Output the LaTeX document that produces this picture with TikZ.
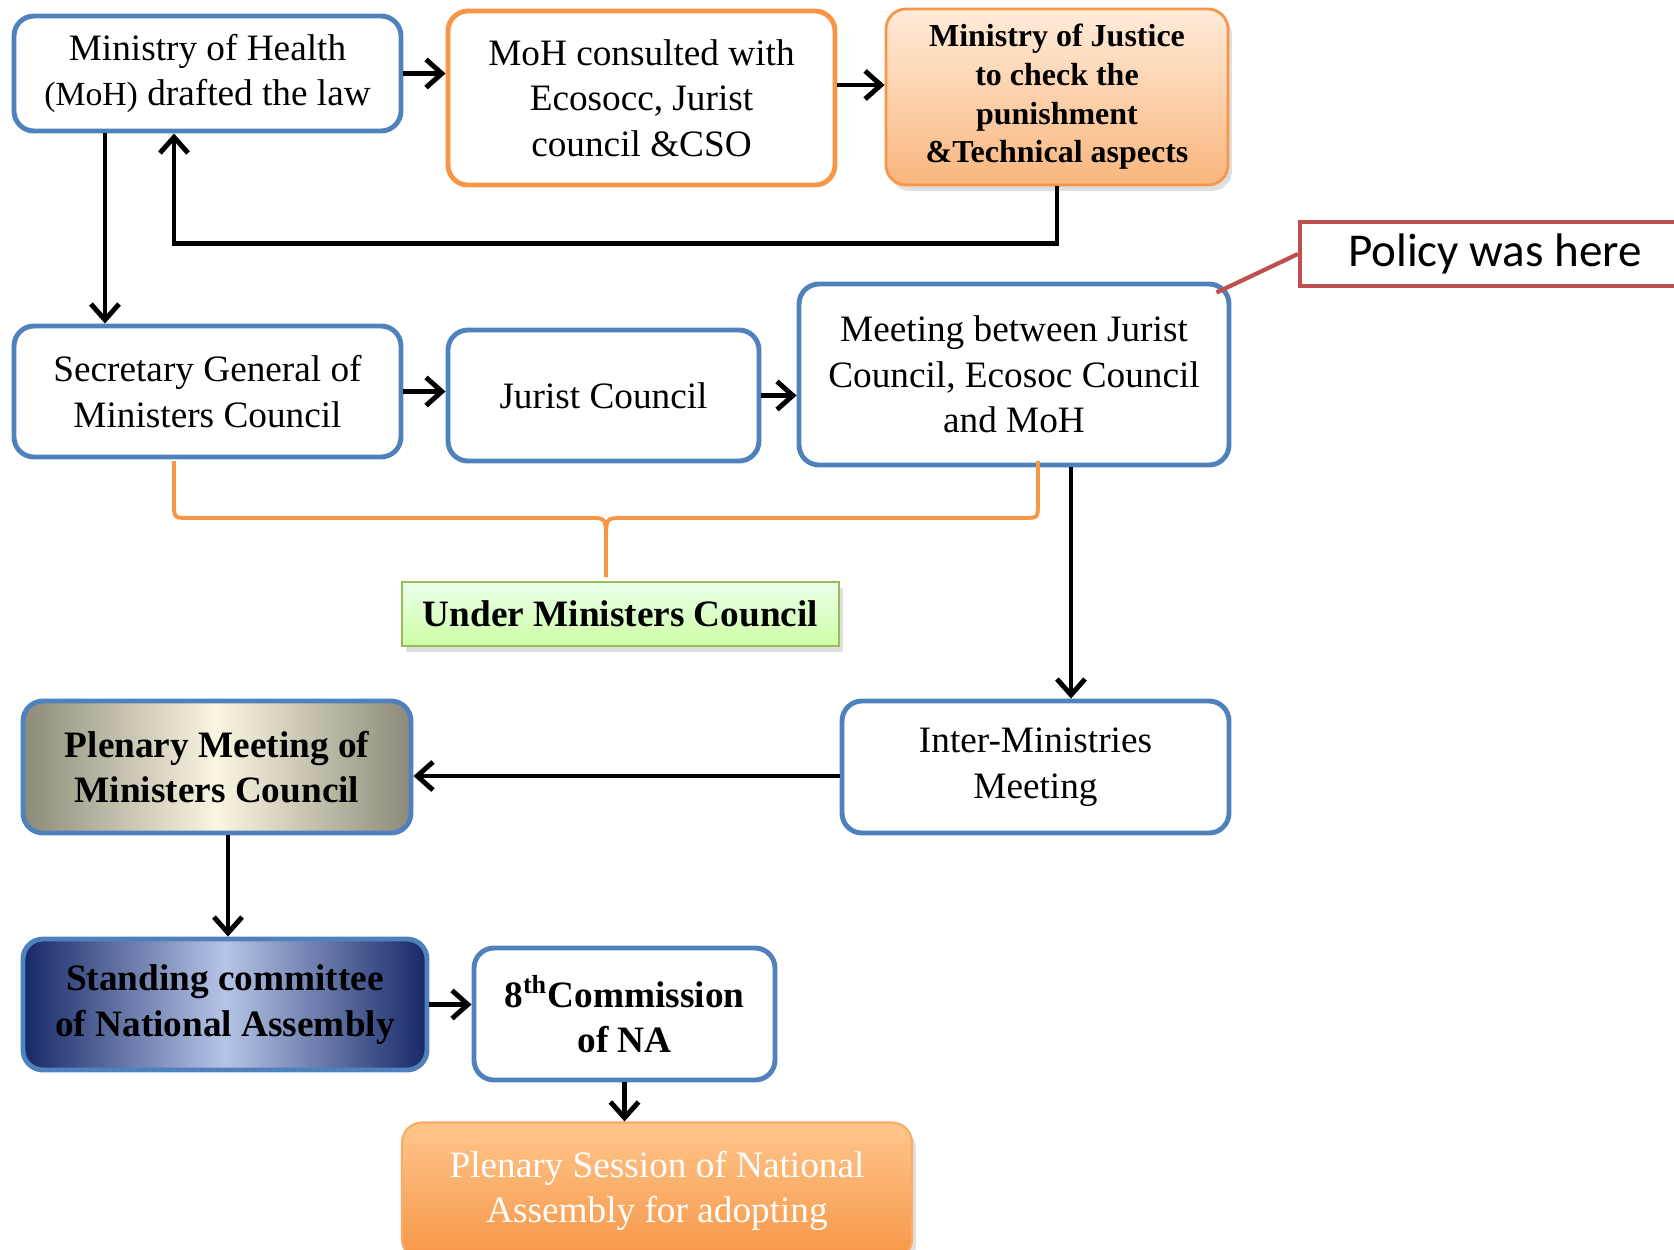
\documentclass[tikz,border=0pt]{standalone}
\usepackage{fontspec}
\setmainfont{Liberation Serif}
\newfontfamily\calibfont{Carlito}
\usetikzlibrary{arrows.meta,shadows}
\definecolor{boxblue}{HTML}{4F81BD}
\definecolor{boxorange}{HTML}{F79646}
\definecolor{boxred}{HTML}{C0504D}
\definecolor{boxgreen}{HTML}{9BBB59}
\definecolor{plenedge}{RGB}{140,138,120}
\definecolor{plenmid}{RGB}{251,246,226}
\definecolor{standedge}{RGB}{22,40,104}
\definecolor{standmid}{RGB}{182,197,230}
\tikzset{%
  block/.style    = {draw=boxblue, line width=1.4pt, rectangle, rounded corners=2mm,
    align=center, fill=white, font=\fontsize{10.6}{13}\selectfont},
  oblock/.style   = {block, draw=boxorange}, % Orange frame
  justice/.style  = {block, draw=boxorange, line width=0.8pt, top color=orange!15,
    bottom color=boxorange!70, font=\fontsize{9.1}{11}\selectfont\bfseries,
    drop shadow={opacity=0.25, shadow xshift=0.4mm, shadow yshift=-0.6mm}},
  plenary/.style  = {block, left color=plenedge, right color=plenedge,
    middle color=plenmid, font=\fontsize{10.6}{13}\selectfont\bfseries},
  standing/.style = {block, left color=standedge, right color=standedge,
    middle color=standmid, font=\fontsize{10.6}{13}\selectfont\bfseries},
  session/.style  = {block, draw=boxorange!80, line width=0.6pt, top color=orange!45,
    bottom color=boxorange, text=white,
    drop shadow={opacity=0.25, shadow xshift=0.4mm, shadow yshift=-0.6mm}},
  label/.style    = {draw=boxgreen, line width=0.8pt, rectangle, top color=green!8!white,
    bottom color=green!55!yellow!35!white, font=\fontsize{10.6}{13}\selectfont\bfseries,
    drop shadow={opacity=0.25, shadow xshift=0.4mm, shadow yshift=-0.6mm}},
  note/.style     = {draw=boxred, line width=1.2pt, rectangle, fill=white,
    font=\fontsize{13.4}{16}\selectfont\calibfont},
  brace/.style    = {draw=boxorange, line width=1.1pt},
  link/.style     = {draw=boxred, line width=1.2pt}
}

\begin{document}
\begin{tikzpicture}[line width=1.4pt, >={Straight Barb[length=4.5pt,width=8pt]}]
\useasboundingbox (0,0) rectangle (16.74,-12.49);
\draw
	% Drafting and consultation :
	node at (2.075,-0.735) [block, minimum width=3.87cm, minimum height=1.15cm] (moh)
		{Ministry of Health\\{\fontsize{9.6}{13}\selectfont(MoH)} drafted the law}
	node at (6.415,-0.98) [oblock, minimum width=3.87cm, minimum height=1.74cm] (cons)
		{MoH consulted with\\Ecosocc, Jurist\\council \&CSO}
	node at (10.57,-0.97) [justice, minimum width=3.42cm, minimum height=1.76cm] (moj)
		{Ministry of Justice\\to check the\\punishment\\\&Technical aspects}
	% Ministers Council stage
	node at (2.075,-3.915) [block, minimum width=3.87cm, minimum height=1.31cm] (secgen)
		{Secretary General of\\Ministers Council}
	node at (6.035,-3.955) [block, minimum width=3.11cm, minimum height=1.31cm] (jurist)
		{Jurist Council}
	node at (10.14,-3.745) [block, minimum width=4.30cm, minimum height=1.81cm] (meet)
		{Meeting between Jurist\\Council, Ecosoc Council\\and MoH}
	node at (6.205,-6.14) [label, minimum width=4.37cm, minimum height=0.64cm] (under)
		{Under Ministers Council}
	node at (10.355,-7.67) [block, minimum width=3.87cm, minimum height=1.32cm] (inter)
		{Inter-Ministries\\Meeting}
	node at (2.17,-7.67) [plenary, minimum width=3.88cm, minimum height=1.32cm] (plenmeet)
		{Plenary Meeting of\\Ministers Council}
;
\draw
	% National Assembly stage
	node at (2.25,-10.045) [standing, minimum width=4.04cm, minimum height=1.31cm] (standing)
		{Standing committee\\of National Assembly}
	node at (6.245,-10.14) [block, minimum width=3.01cm, minimum height=1.32cm,
		font=\fontsize{10.6}{13}\selectfont\bfseries] (comm)
		{8\textsuperscript{th}Commission\\of NA}
	node at (6.57,-11.91) [session, minimum width=5.10cm, minimum height=1.37cm] (session)
		{Plenary Session of National\\Assembly for adopting}
	node at (14.95,-2.54) [note, minimum width=3.9cm, minimum height=0.64cm] (policy)
		{Policy was here}
;
	% Joining blocks.
	\draw[->] (moh.east) -- (moh.east -| cons.west);
	\draw[->] ([yshift=1.3mm]cons.east) -- ([yshift=1.3mm]cons.east -| moj.west);
	\draw[->] (moj.south) -- ++(0,-0.57) -| ([xshift=-3.35mm]moh.south);
	\draw[->] ([xshift=-10.25mm]moh.south) -- ([xshift=-10.25mm]secgen.north);
	\draw[->] (secgen.east) -- (secgen.east -| jurist.west);
	\draw[->] (jurist.east) -- (jurist.east -| meet.west);
	\draw[->] ([xshift=5.7mm]meet.south) -- ([xshift=5.7mm]meet.south |- inter.north);
	\draw[->] ([yshift=-0.9mm]inter.west) -- ([yshift=-0.9mm]inter.west -| plenmeet.east);
	\draw[->] ([xshift=1.1mm]plenmeet.south) -- ([xshift=1.1mm]plenmeet.south |- standing.north);
	\draw[->] (standing.east) -- (standing.east -| comm.west);
	\draw[->] (comm.south) -- (comm.south |- session.north);
	% Brace over the council meetings
	\coordinate (bracel) at (1.74,-4.61);
	\coordinate (bracer) at (10.38,-4.61);
	\coordinate (bracetip) at (6.06,-5.77);
	\draw[brace] (bracel) -- (1.74,-5.03) .. controls (1.74,-5.18) .. (1.89,-5.18)
		-- (5.90,-5.18) .. controls (6.06,-5.18) .. (6.06,-5.42) -- (bracetip);
	\draw[brace] (bracer) -- (10.38,-5.03) .. controls (10.38,-5.18) .. (10.23,-5.18)
		-- (6.22,-5.18) .. controls (6.06,-5.18) .. (6.06,-5.42);
	% Pointer to the policy note
	\draw[link] ([shift={(-1.5mm,-1.1mm)}]meet.north east) -- (policy.west);
\end{tikzpicture}
\end{document}
